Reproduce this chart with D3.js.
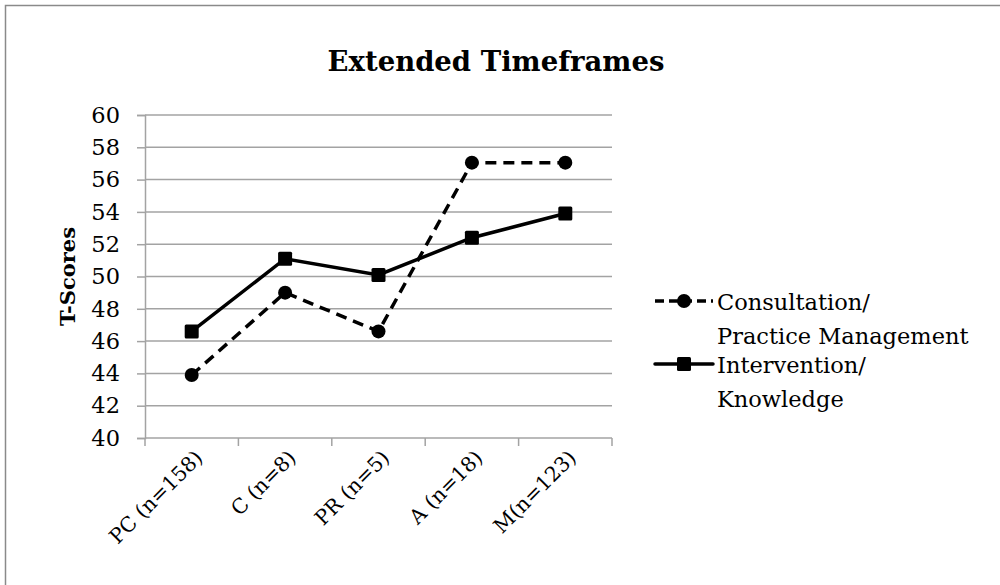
<!DOCTYPE html>
<html>
<head>
<meta charset="utf-8">
<script src="https://cdn.jsdelivr.net/npm/d3@7"></script>
<style>
  html, body { margin: 0; padding: 0; background: #fff; }
  svg { display: block; }
  text { font-family: "DejaVu Serif", "Liberation Serif", serif; fill: #000; }
</style>
</head>
<body>
<svg id="chart" width="1000" height="585"></svg>
<script>
// Categories and series values (T-scores)
const categories = ["PC (n=158)", "C (n=8)", "PR (n=5)", "A (n=18)", "M(n=123)"];
const consultation = [43.9, 49.0, 46.6, 57.05, 57.05];
const intervention = [46.6, 51.1, 50.1, 52.4, 53.9];
const yTicks = [40, 42, 44, 46, 48, 50, 52, 54, 56, 58, 60];
const seriesNames = [["Consultation/", "Practice Management"], ["Intervention/", "Knowledge"]];

const svg = d3.select("#chart");

// outer frame
svg.append("rect")
  .attr("x", 5.5).attr("y", 5.5)
  .attr("width", 1000).attr("height", 600)
  .attr("fill", "none").attr("stroke", "#8a8a8a").attr("stroke-width", 1.5);

const margin = { left: 145, right: 612, top: 115, bottom: 438 };

const x = d3.scaleBand().domain(categories).range([margin.left, margin.right]);
const y = d3.scaleLinear().domain([40, 60]).range([margin.bottom, margin.top]);

const gridColor = "#a3a3a3";

// title
svg.append("text")
  .attr("x", 496).attr("y", 71)
  .attr("text-anchor", "middle")
  .style("font-size", "27.5px").style("font-weight", "bold")
  .text("Extended Timeframes");

// horizontal gridlines
svg.append("g").selectAll("line")
  .data(yTicks.filter(d => d !== 40))
  .join("line")
  .attr("x1", margin.left).attr("x2", margin.right)
  .attr("y1", d => y(d)).attr("y2", d => y(d))
  .attr("stroke", gridColor).attr("stroke-width", 1.5);

// y axis
const yAxis = svg.append("g")
  .attr("transform", `translate(${margin.left},0)`)
  .call(d3.axisLeft(y).tickValues(yTicks).tickSize(8).tickPadding(17));
yAxis.select(".domain").attr("stroke", gridColor).attr("stroke-width", 1.5);
yAxis.selectAll(".tick line").attr("stroke", gridColor).attr("stroke-width", 1.5);
yAxis.selectAll(".tick text")
  .style("font-size", "22.5px").style("font-family", "'DejaVu Serif', serif");

// x axis: ticks at band edges
const xAxis = svg.append("g")
  .attr("transform", `translate(0,${margin.bottom})`);
xAxis.append("line")
  .attr("x1", margin.left).attr("x2", margin.right)
  .attr("stroke", gridColor).attr("stroke-width", 1.5);
const edges = categories.map(c => x(c)).concat([margin.right]);
xAxis.selectAll("line.edge")
  .data(edges)
  .join("line").attr("class", "edge")
  .attr("x1", d => d).attr("x2", d => d)
  .attr("y1", 0).attr("y2", 8)
  .attr("stroke", gridColor).attr("stroke-width", 1.5);
xAxis.selectAll("text.cat")
  .data(categories)
  .join("text").attr("class", "cat")
  .attr("text-anchor", "end")
  .attr("transform", d => `translate(${x(d) + x.bandwidth() / 2 + 7},${16}) rotate(-45)`)
  .attr("dy", "0.35em")
  .style("font-size", "20.5px")
  .text(d => d);

// y axis title
svg.append("text")
  .attr("transform", `translate(75,${(margin.top + margin.bottom) / 2}) rotate(-90)`)
  .attr("text-anchor", "middle")
  .style("font-size", "21px").style("font-weight", "bold")
  .text("T-Scores");

const cx = d => x(d) + x.bandwidth() / 2;
const line = d3.line().x((d, i) => cx(categories[i])).y(d => y(d));

// Consultation / Practice Management (dashed, circles)
svg.append("path")
  .datum(consultation)
  .attr("d", line)
  .attr("fill", "none").attr("stroke", "#000")
  .attr("stroke-width", 3.5).attr("stroke-dasharray", "11,7");
svg.append("g").selectAll("circle")
  .data(consultation)
  .join("circle")
  .attr("cx", (d, i) => cx(categories[i]))
  .attr("cy", d => y(d))
  .attr("r", 7).attr("fill", "#000");

// Intervention / Knowledge (solid, squares)
svg.append("path")
  .datum(intervention)
  .attr("d", line)
  .attr("fill", "none").attr("stroke", "#000")
  .attr("stroke-width", 3.5);
svg.append("g").selectAll("rect")
  .data(intervention)
  .join("rect")
  .attr("x", (d, i) => cx(categories[i]) - 7)
  .attr("y", d => y(d) - 7)
  .attr("width", 14).attr("height", 14)
  .attr("rx", 1.5)
  .attr("fill", "#000");

// legend
const legend = svg.append("g");
const legY = [301, 364];
// dashed entry
legend.append("line")
  .attr("x1", 655).attr("x2", 713).attr("y1", legY[0]).attr("y2", legY[0])
  .attr("stroke", "#000").attr("stroke-width", 3.5).attr("stroke-dasharray", "9,5");
legend.append("circle").attr("cx", 684).attr("cy", legY[0]).attr("r", 7).attr("fill", "#000");
// solid entry
legend.append("line")
  .attr("x1", 655).attr("x2", 713).attr("y1", legY[1]).attr("y2", legY[1])
  .attr("stroke", "#000").attr("stroke-width", 3.5).attr("stroke-linecap", "round");
legend.append("rect").attr("x", 677).attr("y", legY[1] - 7).attr("width", 14).attr("height", 14)
  .attr("rx", 1.5).attr("fill", "#000");

seriesNames.forEach((lines, k) => {
  const t = legend.append("text")
    .attr("x", 717).attr("y", legY[k] + 9)
    .style("font-size", "22.5px");
  lines.forEach((s, j) => {
    t.append("tspan").attr("x", 717).attr("dy", j === 0 ? 0 : 34).text(s);
  });
});
</script>
</body>
</html>
